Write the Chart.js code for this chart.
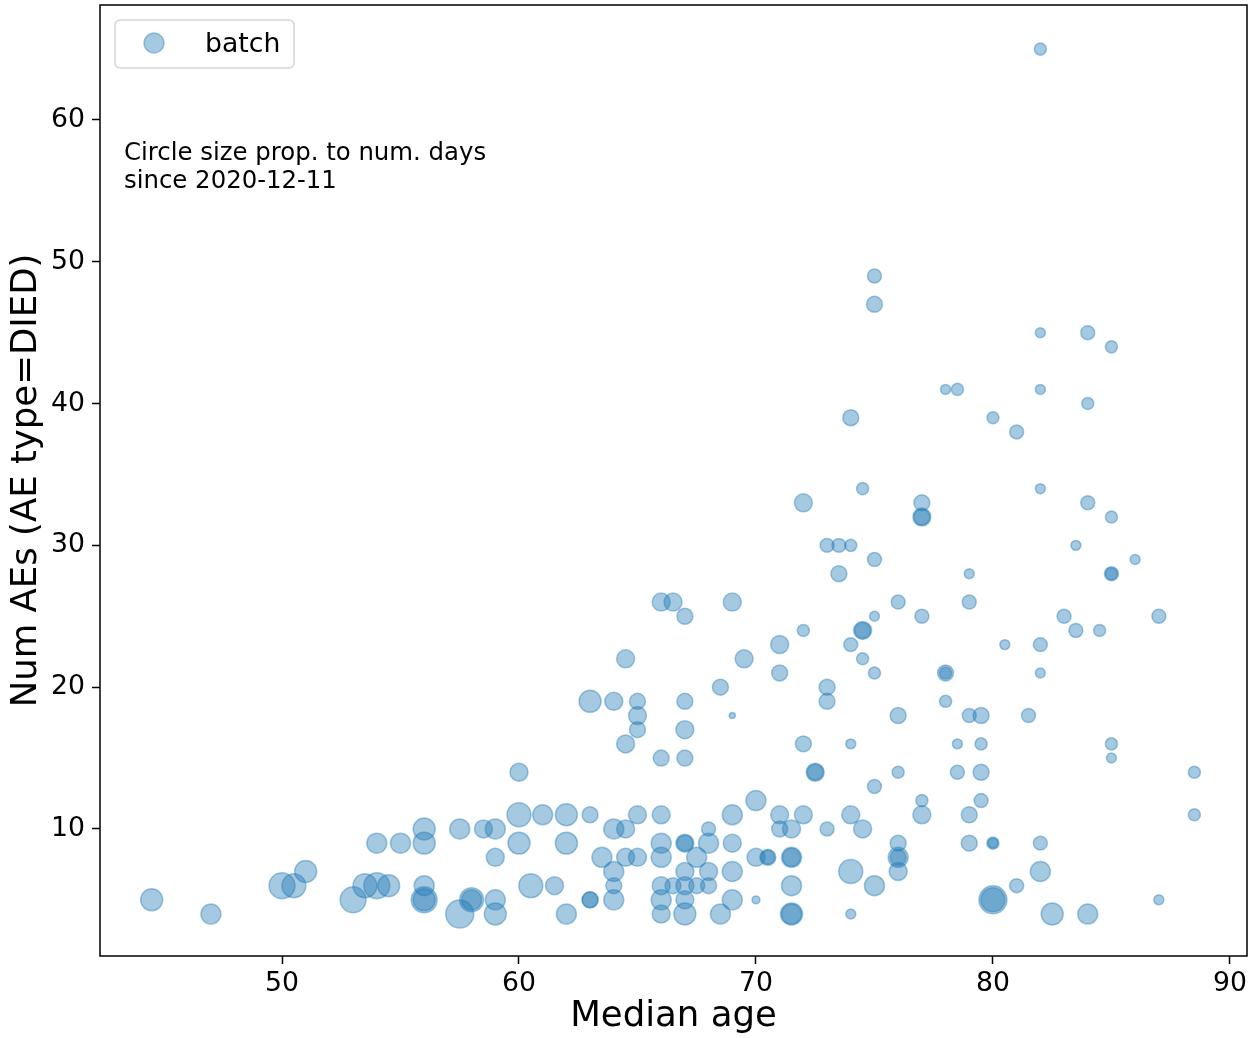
<!DOCTYPE html>
<html>
<head>
<meta charset="utf-8">
<script src="https://cdn.jsdelivr.net/npm/chart.js@4.4.1/dist/chart.umd.min.js"></script>
<style>
    html, body { margin: 0; padding: 0; background: #fff; }
</style>
</head>
<body>
<canvas id="aeChart" width="1251" height="1038"></canvas>
<script>
// Median age per batch
const medianAge = [
    44.5, 47, 50, 50.5, 51, 53, 53.5, 54, 54.5, 54,
    55, 56, 56, 56, 56, 56, 57.5, 57.5, 58, 58,
    58.5, 59, 59, 59, 59, 60, 60, 60, 60.5, 61,
    61.5, 62, 62, 62, 63, 63, 63, 63.5, 64, 64,
    64, 64, 64.5, 64.5, 65, 65, 66, 66, 66, 66,
    66, 66, 66.5, 67, 67, 67, 67, 67, 67, 67.5,
    67.5, 68, 68, 68, 68, 68.5, 69, 69, 69, 69,
    70, 70, 70, 70.5, 70.5, 71, 71, 71.5, 71.5, 71.5,
    71.5, 71.5, 71.5, 72, 73, 74, 74, 74, 74.5, 75,
    76, 76, 76, 76, 77, 79, 79, 80, 80, 80,
    80, 81, 82, 82, 82.5, 84, 87, 64.5, 66, 67,
    72, 74, 78.5, 79.5, 85, 85, 72.5, 72.5, 76, 78.5,
    79.5, 88.5, 75, 77, 79.5, 88.5, 65, 67, 65, 69,
    76, 79, 79.5, 81.5, 63, 64, 65, 67, 73, 78,
    68.5, 73, 71, 75, 78, 78, 82, 64.5, 69.5, 74.5,
    71, 74, 80.5, 82, 72, 74.5, 74.5, 83.5, 84.5, 67,
    75, 77, 83, 87, 66, 66.5, 69, 76, 79, 73.5,
    79, 85, 85, 75, 86, 73, 73.5, 74, 83.5, 72,
    77, 77, 77, 84, 85, 74.5, 82, 81, 74, 80,
    84, 78, 78.5, 82, 85, 82, 84, 75, 75, 82
];

// Number of AEs with type DIED
const numDied = [
    5, 4, 6, 6, 7, 5, 6, 6, 6, 9,
    9, 10, 9, 6, 5, 5, 10, 4, 5, 5,
    10, 10, 8, 5, 4, 14, 11, 9, 6, 11,
    6, 11, 9, 4, 11, 5, 5, 8, 10, 7,
    6, 5, 10, 8, 11, 8, 11, 9, 8, 6,
    5, 4, 6, 9, 9, 7, 6, 5, 4, 8,
    6, 10, 9, 7, 6, 4, 11, 9, 7, 5,
    12, 8, 5, 8, 8, 11, 10, 10, 8, 8,
    6, 4, 4, 11, 10, 11, 7, 4, 10, 6,
    9, 8, 8, 7, 11, 11, 9, 9, 9, 5,
    5, 6, 9, 7, 4, 4, 5, 16, 15, 15,
    16, 16, 16, 16, 16, 15, 14, 14, 14, 14,
    14, 14, 13, 12, 12, 11, 17, 17, 18, 18,
    18, 18, 18, 18, 19, 19, 19, 19, 19, 19,
    20, 20, 21, 21, 21, 21, 21, 22, 22, 22,
    23, 23, 23, 23, 24, 24, 24, 24, 24, 25,
    25, 25, 25, 25, 26, 26, 26, 26, 26, 28,
    28, 28, 28, 29, 29, 30, 30, 30, 30, 33,
    33, 32, 32, 33, 32, 34, 34, 38, 39, 39,
    40, 41, 41, 41, 44, 45, 45, 47, 49, 65
];

// Days since 2020-12-11 (drives the circle size)
const daysSince = [
    146, 121, 204, 174, 146, 204, 174, 204, 146, 121,
    121, 146, 146, 121, 204, 146, 121, 237, 174, 121,
    98, 121, 98, 121, 146, 98, 174, 146, 174, 121,
    98, 146, 146, 121, 77, 77, 77, 121, 121, 121,
    77, 121, 98, 98, 98, 98, 98, 121, 121, 98,
    121, 98, 77, 98, 77, 98, 98, 98, 146, 121,
    77, 59, 121, 98, 77, 121, 121, 98, 121, 121,
    121, 98, 19, 77, 59, 98, 77, 98, 121, 98,
    121, 146, 121, 98, 59, 98, 174, 30, 98, 121,
    77, 121, 77, 98, 98, 77, 77, 44, 30, 237,
    174, 59, 59, 121, 146, 121, 30, 98, 77, 77,
    77, 30, 30, 44, 44, 30, 98, 77, 44, 59,
    77, 44, 59, 44, 59, 44, 77, 98, 98, 11,
    77, 59, 77, 59, 146, 98, 77, 77, 77, 44,
    77, 77, 77, 44, 77, 44, 30, 98, 98, 44,
    98, 59, 30, 59, 44, 98, 77, 59, 44, 77,
    30, 59, 59, 59, 98, 98, 98, 59, 59, 77,
    30, 59, 44, 59, 30, 59, 59, 44, 30, 98,
    77, 98, 77, 59, 44, 44, 30, 59, 77, 44,
    44, 30, 44, 30, 44, 30, 59, 77, 59, 44
];

const xTicks = [50, 60, 70, 80, 90];
const yTicks = [10, 20, 30, 40, 50, 60];

const blue = "rgba(31,119,180,0.4)";
const font = "'DejaVu Sans', sans-serif";

const points = medianAge.map((x, i) => ({
    x: x,
    y: numDied[i],
    r: Math.sqrt(daysSince[i]) / 1.1
}));

// keep chart.js from reserving room for overhanging tick labels
function noLabelPadding(s) {
    s.paddingTop = 0;
    s.paddingBottom = 0;
    s.paddingLeft = 0;
    s.paddingRight = 0;
}

// frame, legend box and the note text
const extras = {
    id: "extras",
    afterDraw(chart) {
        const ctx = chart.ctx;
        const a = chart.chartArea;
        ctx.save();

        ctx.strokeStyle = "#000";
        ctx.lineWidth = 1.5;
        ctx.strokeRect(a.left, a.top, a.right - a.left, a.bottom - a.top);

        // legend (matplotlib style, inside axes)
        const lx = a.left + 15, ly = a.top + 15;
        ctx.beginPath();
        ctx.roundRect(lx, ly, 179, 48, 5);
        ctx.fillStyle = "rgba(255,255,255,0.8)";
        ctx.fill();
        ctx.strokeStyle = "#d4d4d4";
        ctx.lineWidth = 1.5;
        ctx.stroke();

        ctx.beginPath();
        ctx.arc(lx + 39, ly + 23, 10, 0, Math.PI * 2);
        ctx.fillStyle = blue;
        ctx.fill();
        ctx.strokeStyle = blue;
        ctx.stroke();

        ctx.fillStyle = "#000";
        ctx.font = "26.7px " + font;
        ctx.textBaseline = "middle";
        ctx.textAlign = "left";
        ctx.fillText("batch", lx + 90, ly + 25);

        ctx.font = "24.4px " + font;
        ctx.fillText("Circle size prop. to num. days", a.left + 24, a.top + 149);
        ctx.fillText("since 2020-12-11", a.left + 24, a.top + 177);
        ctx.restore();
    }
};

new Chart(document.getElementById("aeChart"), {
    type: "bubble",
    data: {
        datasets: [{
            label: "batch",
            data: points,
            backgroundColor: blue,
            borderColor: blue,
            borderWidth: 1.5
        }]
    },
    options: {
        responsive: false,
        animation: false,
        events: [],
        layout: { autoPadding: false, padding: { top: 5, right: 4, left: 0, bottom: 0 } },
        plugins: {
            legend: { display: false },
            tooltip: { enabled: false }
        },
        scales: {
            x: {
                type: "linear",
                min: 42.32,
                max: 90.72,
                afterBuildTicks: s => { s.ticks = xTicks.map(v => ({ value: v })); },
                afterFit: s => { s.height = 82; noLabelPadding(s); },
                border: { display: false },
                grid: { drawOnChartArea: false, tickLength: 8, tickColor: "#000", tickWidth: 1.5 },
                ticks: { color: "#000", padding: 4, font: { family: font, size: 26.7 } },
                title: {
                    display: true,
                    text: "Median age",
                    color: "#000",
                    padding: { top: 0, bottom: 0 },
                    font: { family: font, size: 35.5 }
                }
            },
            y: {
                type: "linear",
                min: 1.04,
                max: 68.11,
                afterBuildTicks: s => { s.ticks = yTicks.map(v => ({ value: v })); },
                afterFit: s => { s.width = 100; noLabelPadding(s); },
                border: { display: false },
                grid: { drawOnChartArea: false, tickLength: 8, tickColor: "#000", tickWidth: 1.5 },
                ticks: { color: "#000", padding: 7, font: { family: font, size: 26.7 } },
                title: {
                    display: true,
                    text: "Num AEs (AE type=DIED)",
                    color: "#000",
                    padding: { top: 5, bottom: 0 },
                    font: { family: font, size: 35.5 }
                }
            }
        }
    },
    plugins: [extras]
});
</script>
</body>
</html>
